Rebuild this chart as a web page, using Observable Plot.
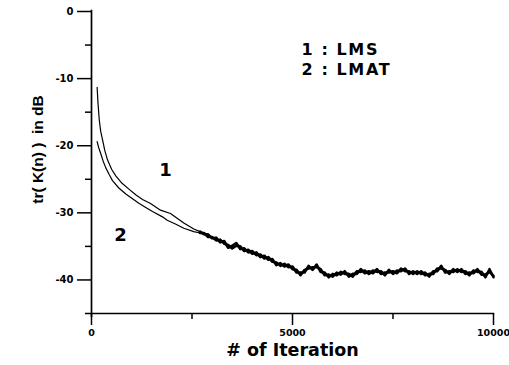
<!DOCTYPE html>
<html><head><meta charset="utf-8">
<script src="https://cdn.jsdelivr.net/npm/d3@7"></script>
<script src="https://cdn.jsdelivr.net/npm/@observablehq/plot@0.6"></script>
<style>body{margin:0;background:#fff}</style>
</head><body><div id="chart"></div>
<script>
// ---- data ----
const seriesNames = ["1 : LMS", "2 : LMAT"];
const curveLabels = ["1", "2"];
const xLabel = "# of Iteration";
const yLabel = "tr( K(n) )  in dB";
const yTicksMajor = [0, -10, -20, -30, -40];
const yTicksMinor = [-5, -15, -25, -35];
const xTicksMajor = [0, 5000, 10000];
const xTicksMinor = [2500, 7500];

// early (smooth) part of each curve
const earlyIterLMS = [140,160,192,230,274,330,398,500,604,760,938,1100,1269,1468,1716,1965,2130,2296,2545,2700];
const earlyLMS = [-11.3,-13.5,-16.1,-17.9,-19.1,-20.7,-22.1,-23.5,-24.5,-25.6,-26.5,-27.3,-28.0,-28.6,-29.6,-30.1,-30.8,-31.5,-32.4,-32.8];
const earlyIterLMAT = [140,180,231,290,356,440,522,680,853,1020,1187,1350,1517,1766,1883,2100,2296,2545,2700];
const earlyLMAT = [-19.4,-20.3,-21.2,-22.3,-23.3,-24.3,-25.2,-26.3,-27.2,-27.9,-28.6,-29.2,-29.8,-30.6,-31.1,-31.7,-32.3,-32.8,-33.0];

// late (noisy) part of each curve
const lateIter = [
  2700,2800,2900,3000,3100,3200,3300,3400,3500,3600,
  3700,3800,3900,4000,4100,4200,4300,4400,4500,4600,
  4700,4800,4900,5000,5100,5200,5300,5400,5500,5600,
  5700,5800,5900,6000,6100,6200,6300,6400,6500,6600,
  6700,6800,6900,7000,7100,7200,7300,7400,7500,7600,
  7700,7800,7900,8000,8100,8200,8300,8400,8500,8600,
  8700,8800,8900,9000,9100,9200,9300,9400,9500,9600,
  9700,9800,9900,10000];
const lateLMS = [
  -32.8,-33.2,-33.2,-33.8,-33.7,-34.4,-34.2,-35.2,-34.9,-34.5,
  -35.4,-35.3,-35.9,-35.7,-36.3,-36.2,-36.8,-36.6,-37.3,-37.4,
  -37.9,-37.6,-38.1,-38.0,-38.9,-38.9,-38.9,-37.9,-38.5,-37.7,
  -38.8,-38.9,-39.6,-39.1,-39.3,-38.8,-39.1,-39.1,-39.5,-38.7,
  -38.8,-38.6,-39.1,-38.6,-38.8,-38.7,-39.3,-38.5,-39.1,-38.6,
  -38.7,-38.3,-39.1,-38.7,-39.1,-38.7,-39.3,-39.1,-39.1,-38.3,
  -38.3,-38.5,-39.1,-38.4,-38.8,-38.4,-39.1,-38.9,-39.0,-38.4,
  -39.2,-39.2,-38.8,-39.4];
const lateLMAT = [
  -33.0,-33.0,-33.6,-33.6,-34.1,-34.0,-34.6,-34.8,-35.3,-34.9,
  -35.0,-35.7,-35.5,-36.1,-35.9,-36.6,-36.4,-37.0,-36.9,-37.8,
  -37.5,-38.0,-37.7,-38.4,-38.5,-39.3,-38.5,-38.3,-38.1,-38.1,
  -38.4,-39.3,-39.2,-39.5,-38.9,-39.2,-38.7,-39.5,-39.1,-39.1,
  -38.4,-39.0,-38.7,-39.0,-38.4,-39.1,-38.9,-38.9,-38.7,-39.0,
  -38.3,-38.7,-38.7,-39.1,-38.7,-39.1,-38.9,-39.5,-38.7,-38.7,
  -37.9,-38.9,-38.7,-38.8,-38.4,-38.8,-38.7,-39.3,-38.6,-38.8,
  -38.8,-39.6,-38.4,-39.6];

// ---- build tables ----
const toRows = (xs, ys) => xs.map((it, i) => ({it, db: ys[i]}));
const lmsEarly = toRows(earlyIterLMS, earlyLMS);
const lmatEarly = toRows(earlyIterLMAT, earlyLMAT);
const lmsLate = toRows(lateIter, lateLMS);
const lmatLate = toRows(lateIter, lateLMAT);

const chart = Plot.plot({
  width: 509, height: 365,
  marginLeft: 91, marginRight: 16, marginTop: 11, marginBottom: 52,
  x: {domain: [0, 10000]},
  y: {domain: [-45, 0]},
  style: {fontFamily: "DejaVu Sans", fontWeight: "bold", fontSize: "10px", color: "#000", background: "#fff"},
  marks: [
    Plot.ruleX([0], {y1: 0.2, y2: -45.6, strokeWidth: 1.7}),
    Plot.ruleY([-45], {x1: -150, x2: 10030, strokeWidth: 1.7}),
    Plot.axisY(yTicksMajor, {tickSize: 14, tickPadding: 4, tickFormat: d => String(d), label: null, strokeWidth: 1.5, fontSize: 10}),
    Plot.axisY(yTicksMinor, {tickSize: 6, tickFormat: () => "", label: null, strokeWidth: 1.5}),
    Plot.axisX(xTicksMajor, {tickSize: 12, tickPadding: 4, tickFormat: d => String(d), label: null, strokeWidth: 1.5, fontSize: 9.5}),
    Plot.axisX(xTicksMinor, {tickSize: 6, tickFormat: () => "", label: null, strokeWidth: 1.5}),
    Plot.line(lmsEarly, {x: "it", y: "db", stroke: "#000", strokeWidth: 1.2}),
    Plot.line(lmatEarly, {x: "it", y: "db", stroke: "#000", strokeWidth: 1.2}),
    Plot.line(lmsLate, {x: "it", y: "db", stroke: "#000", strokeWidth: 2.6}),
    Plot.line(lmatLate, {x: "it", y: "db", stroke: "#000", strokeWidth: 2.6}),
    Plot.text([seriesNames.join("\n")], {text: d => d, frameAnchor: "top-left", dx: 210, dy: 29.6, lineHeight: 1.25, textAnchor: "start", lineAnchor: "top", fontSize: 16}),
    Plot.text([curveLabels[0]], {text: d => d, frameAnchor: "top-left", dx: 74, dy: 159, fontSize: 18, textAnchor: "middle", lineAnchor: "middle"}),
    Plot.text([curveLabels[1]], {text: d => d, frameAnchor: "top-left", dx: 29, dy: 224, fontSize: 18, textAnchor: "middle", lineAnchor: "middle"}),
    Plot.text([xLabel], {text: d => d, frameAnchor: "bottom", dy: 37, fontSize: 17.5, textAnchor: "middle", lineAnchor: "middle"}),
    Plot.text([yLabel], {text: d => d, frameAnchor: "left", dx: -53, dy: -13, rotate: -90, fontSize: 15.5, fontFamily: "Liberation Sans", textAnchor: "middle", lineAnchor: "middle"})
  ]
});
d3.select(chart).selectAll("text").filter(function() { return /LM/.test(this.textContent); }).style("letter-spacing", "1.6px");
document.getElementById("chart").appendChild(chart);
</script>
</body></html>
